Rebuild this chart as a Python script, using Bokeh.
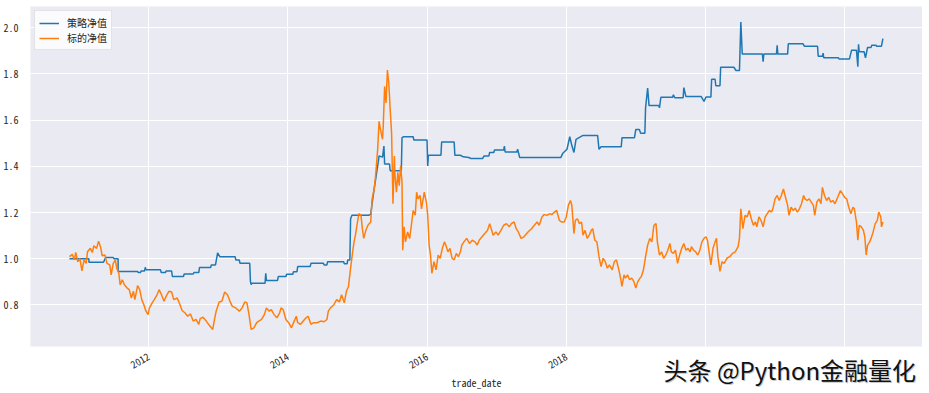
import math
import pandas as pd
from bokeh.plotting import figure
from bokeh.layouts import column
from bokeh.models import FixedTicker, PrintfTickFormatter, Label, Range1d
from bokeh.embed import file_html
from bokeh.resources import INLINE

# ---- data (dates as decimal years, values = net value) ----
strategy_t = [2010.86, 2011.14, 2011.14, 2011.35, 2011.38, 2011.49, 2011.50, 2011.56, 2011.56, 2011.84,
              2011.85, 2011.88, 2011.89, 2011.94, 2011.95, 2011.96, 2012.17, 2012.18, 2012.24, 2012.25,
              2012.33, 2012.34, 2012.50, 2012.51, 2012.64, 2012.65, 2012.72, 2012.73, 2012.89, 2012.90,
              2012.96, 2012.99, 2013.02, 2013.24, 2013.25, 2013.30, 2013.31, 2013.45, 2013.46, 2013.47,
              2013.48, 2013.67, 2013.68, 2013.69, 2013.85, 2013.86, 2013.97, 2013.98, 2014.07, 2014.08,
              2014.13, 2014.14, 2014.32, 2014.33, 2014.51, 2014.52, 2014.56, 2014.57, 2014.80, 2014.81,
              2014.85, 2014.86, 2014.89, 2014.90, 2014.92, 2015.16, 2015.19, 2015.21, 2015.24, 2015.29,
              2015.31, 2015.36, 2015.38, 2015.39, 2015.46, 2015.47, 2015.63, 2015.64, 2015.66, 2015.80,
              2015.81, 2016.00, 2016.01, 2016.02, 2016.20, 2016.21, 2016.39, 2016.40, 2016.48, 2016.52,
              2016.60, 2016.63, 2016.80, 2016.82, 2016.89, 2016.90, 2016.96, 2016.97, 2017.10, 2017.11,
              2017.12, 2017.29, 2017.30, 2017.33, 2017.92, 2017.95, 2018.01, 2018.05, 2018.08, 2018.11,
              2018.14, 2018.24, 2018.45, 2018.47, 2018.50, 2018.79, 2018.80, 2018.98, 2019.00, 2019.05,
              2019.07, 2019.13, 2019.14, 2019.17, 2019.19, 2019.33, 2019.34, 2019.36, 2019.53, 2019.54,
              2019.56, 2019.68, 2019.69, 2019.72, 2019.94, 2019.98, 2020.01, 2020.08, 2020.09, 2020.14,
              2020.15, 2020.21, 2020.22, 2020.41, 2020.44, 2020.49, 2020.51, 2020.53, 2020.82, 2020.83,
              2020.84, 2021.02, 2021.03, 2021.04, 2021.18, 2021.19, 2021.40, 2021.42, 2021.61, 2021.62,
              2021.68, 2021.69, 2021.70, 2021.91, 2021.92, 2022.07, 2022.10, 2022.17, 2022.19, 2022.20,
              2022.21, 2022.28, 2022.30, 2022.33, 2022.38, 2022.39, 2022.45, 2022.46, 2022.53, 2022.55]
strategy_v = [1.000, 1.000, 0.985, 0.985, 1.005, 1.005, 1.000, 1.000, 0.945, 0.945,
              0.940, 0.940, 0.947, 0.947, 0.963, 0.952, 0.952, 0.940, 0.940, 0.947,
              0.947, 0.923, 0.923, 0.934, 0.934, 0.940, 0.940, 0.962, 0.962, 0.973,
              0.973, 1.025, 1.009, 1.009, 0.995, 0.995, 0.980, 0.980, 0.902, 0.888,
              0.894, 0.894, 0.937, 0.906, 0.906, 0.923, 0.923, 0.933, 0.933, 0.944,
              0.944, 0.966, 0.966, 0.980, 0.980, 0.973, 0.973, 0.987, 0.987, 0.978,
              0.978, 0.995, 0.995, 1.173, 1.188, 1.188, 1.192, 1.240, 1.302, 1.402,
              1.445, 1.440, 1.488, 1.410, 1.410, 1.381, 1.381, 1.524, 1.528, 1.528,
              1.514, 1.514, 1.402, 1.448, 1.448, 1.505, 1.505, 1.448, 1.448, 1.441,
              1.438, 1.434, 1.434, 1.445, 1.445, 1.460, 1.460, 1.471, 1.471, 1.488,
              1.462, 1.462, 1.474, 1.438, 1.438, 1.457, 1.474, 1.528, 1.490, 1.460,
              1.517, 1.534, 1.534, 1.474, 1.485, 1.485, 1.524, 1.524, 1.560, 1.560,
              1.543, 1.543, 1.653, 1.739, 1.663, 1.663, 1.653, 1.699, 1.699, 1.710,
              1.697, 1.697, 1.741, 1.702, 1.702, 1.681, 1.700, 1.700, 1.777, 1.777,
              1.749, 1.749, 1.829, 1.829, 1.815, 1.815, 2.025, 1.886, 1.886, 1.853,
              1.886, 1.886, 1.924, 1.886, 1.886, 1.931, 1.931, 1.920, 1.920, 1.877,
              1.877, 1.890, 1.870, 1.870, 1.865, 1.865, 1.903, 1.903, 1.831, 1.928,
              1.896, 1.896, 1.870, 1.915, 1.915, 1.924, 1.924, 1.920, 1.920, 1.953]

bench_t = [2010.86, 2010.90, 2010.93, 2010.95, 2010.98, 2011.01, 2011.04, 2011.07, 2011.10, 2011.12,
           2011.16, 2011.19, 2011.21, 2011.25, 2011.28, 2011.31, 2011.33, 2011.37, 2011.40, 2011.44,
           2011.46, 2011.49, 2011.52, 2011.54, 2011.57, 2011.59, 2011.62, 2011.65, 2011.69, 2011.72,
           2011.75, 2011.78, 2011.80, 2011.84, 2011.87, 2011.90, 2011.93, 2011.96, 2011.99, 2012.01,
           2012.05, 2012.08, 2012.12, 2012.15, 2012.18, 2012.22, 2012.25, 2012.29, 2012.33, 2012.36,
           2012.41, 2012.45, 2012.48, 2012.52, 2012.56, 2012.60, 2012.64, 2012.68, 2012.72, 2012.74,
           2012.78, 2012.82, 2012.86, 2012.90, 2012.92, 2012.95, 2012.97, 2013.01, 2013.05, 2013.09,
           2013.13, 2013.17, 2013.20, 2013.25, 2013.30, 2013.34, 2013.38, 2013.41, 2013.44, 2013.47,
           2013.51, 2013.55, 2013.58, 2013.62, 2013.66, 2013.69, 2013.73, 2013.76, 2013.80, 2013.84,
           2013.88, 2013.90, 2013.93, 2013.97, 2014.01, 2014.05, 2014.09, 2014.12, 2014.14, 2014.18,
           2014.22, 2014.26, 2014.29, 2014.33, 2014.37, 2014.42, 2014.47, 2014.52, 2014.56, 2014.58,
           2014.61, 2014.66, 2014.70, 2014.74, 2014.77, 2014.81, 2014.84, 2014.87, 2014.90, 2014.93,
           2014.95, 2014.97, 2015.00, 2015.02, 2015.05, 2015.07, 2015.09, 2015.12, 2015.15, 2015.19,
           2015.21, 2015.24, 2015.26, 2015.29, 2015.31, 2015.33, 2015.36, 2015.37, 2015.39, 2015.41,
           2015.43, 2015.45, 2015.47, 2015.49, 2015.51, 2015.53, 2015.54, 2015.56, 2015.58, 2015.60,
           2015.62, 2015.64, 2015.65, 2015.67, 2015.69, 2015.72, 2015.75, 2015.78, 2015.80, 2015.83,
           2015.85, 2015.87, 2015.90, 2015.92, 2015.96, 2015.99, 2016.01, 2016.03, 2016.05, 2016.07,
           2016.10, 2016.13, 2016.16, 2016.19, 2016.22, 2016.25, 2016.27, 2016.30, 2016.33, 2016.36,
           2016.39, 2016.42, 2016.45, 2016.48, 2016.50, 2016.53, 2016.57, 2016.61, 2016.65, 2016.69,
           2016.72, 2016.75, 2016.79, 2016.83, 2016.87, 2016.90, 2016.93, 2016.95, 2016.99, 2017.02,
           2017.06, 2017.10, 2017.14, 2017.18, 2017.21, 2017.25, 2017.28, 2017.31, 2017.35, 2017.39,
           2017.43, 2017.46, 2017.50, 2017.54, 2017.58, 2017.61, 2017.65, 2017.68, 2017.72, 2017.76,
           2017.79, 2017.83, 2017.86, 2017.88, 2017.90, 2017.93, 2017.97, 2018.00, 2018.03, 2018.06,
           2018.08, 2018.11, 2018.13, 2018.16, 2018.19, 2018.22, 2018.24, 2018.27, 2018.30, 2018.33,
           2018.36, 2018.38, 2018.41, 2018.44, 2018.47, 2018.50, 2018.53, 2018.56, 2018.59, 2018.62,
           2018.66, 2018.69, 2018.72, 2018.75, 2018.78, 2018.80, 2018.83, 2018.85, 2018.88, 2018.91,
           2018.94, 2018.97, 2019.00, 2019.03, 2019.06, 2019.08, 2019.11, 2019.14, 2019.17, 2019.20,
           2019.23, 2019.26, 2019.29, 2019.31, 2019.34, 2019.37, 2019.40, 2019.43, 2019.46, 2019.49,
           2019.51, 2019.54, 2019.57, 2019.60, 2019.63, 2019.66, 2019.69, 2019.72, 2019.75, 2019.78,
           2019.80, 2019.83, 2019.86, 2019.89, 2019.92, 2019.95, 2019.98, 2020.01, 2020.03, 2020.08,
           2020.11, 2020.14, 2020.16, 2020.18, 2020.21, 2020.24, 2020.27, 2020.31, 2020.35, 2020.39,
           2020.43, 2020.47, 2020.49, 2020.51, 2020.54, 2020.57, 2020.60, 2020.63, 2020.66, 2020.69,
           2020.72, 2020.74, 2020.77, 2020.80, 2020.83, 2020.86, 2020.89, 2020.92, 2020.95, 2020.97,
           2021.00, 2021.03, 2021.06, 2021.09, 2021.12, 2021.15, 2021.18, 2021.20, 2021.23, 2021.26,
           2021.29, 2021.32, 2021.35, 2021.38, 2021.41, 2021.43, 2021.46, 2021.49, 2021.52, 2021.55,
           2021.57, 2021.60, 2021.63, 2021.66, 2021.68, 2021.71, 2021.74, 2021.77, 2021.80, 2021.83,
           2021.86, 2021.89, 2021.91, 2021.94, 2021.97, 2022.00, 2022.03, 2022.06, 2022.09, 2022.12,
           2022.14, 2022.17, 2022.19, 2022.21, 2022.24, 2022.27, 2022.29, 2022.31, 2022.33, 2022.36,
           2022.38, 2022.41, 2022.44, 2022.47, 2022.49, 2022.52, 2022.53, 2022.55]
bench_v = [1.009, 1.019, 0.995, 1.027, 0.987, 1.002, 0.947, 0.995, 0.980, 1.030,
           1.045, 1.027, 1.056, 1.045, 1.076, 1.048, 1.013, 1.016, 0.980, 0.973,
           0.930, 0.980, 0.995, 0.959, 0.937, 0.887, 0.909, 0.887, 0.873, 0.866,
           0.830, 0.859, 0.823, 0.884, 0.866, 0.823, 0.801, 0.773, 0.758, 0.787,
           0.809, 0.823, 0.844, 0.866, 0.847, 0.816, 0.837, 0.859, 0.856, 0.823,
           0.830, 0.801, 0.776, 0.766, 0.751, 0.761, 0.730, 0.737, 0.716, 0.741,
           0.747, 0.733, 0.716, 0.701, 0.694, 0.744, 0.773, 0.813, 0.816, 0.856,
           0.844, 0.813, 0.794, 0.787, 0.773, 0.787, 0.813, 0.809, 0.758, 0.694,
           0.701, 0.723, 0.730, 0.737, 0.758, 0.787, 0.773, 0.780, 0.758, 0.744,
           0.766, 0.787, 0.780, 0.737, 0.723, 0.701, 0.730, 0.751, 0.723, 0.716,
           0.730, 0.744, 0.751, 0.716, 0.723, 0.723, 0.730, 0.727, 0.737, 0.773,
           0.787, 0.801, 0.823, 0.813, 0.844, 0.809, 0.859, 0.880, 0.959, 1.030,
           1.073, 1.102, 1.159, 1.195, 1.188, 1.130, 1.088, 1.123, 1.145, 1.159,
           1.259, 1.302, 1.359, 1.474, 1.595, 1.560, 1.517, 1.574, 1.746, 1.674,
           1.817, 1.760, 1.645, 1.545, 1.238, 1.445, 1.359, 1.288, 1.374, 1.316,
           1.402, 1.331, 1.037, 1.138, 1.073, 1.116, 1.088, 1.159, 1.209, 1.188,
           1.288, 1.259, 1.274, 1.216, 1.288, 1.245, 1.188, 1.059, 1.016, 0.937,
           0.987, 0.952, 1.016, 1.002, 1.045, 1.073, 1.059, 1.030, 1.045, 1.002,
           0.995, 1.023, 1.009, 1.030, 1.059, 1.073, 1.088, 1.066, 1.080, 1.073,
           1.059, 1.080, 1.095, 1.109, 1.123, 1.152, 1.123, 1.102, 1.116, 1.102,
           1.123, 1.145, 1.152, 1.138, 1.152, 1.159, 1.130, 1.116, 1.088, 1.095,
           1.109, 1.119, 1.130, 1.145, 1.159, 1.145, 1.181, 1.191, 1.188, 1.195,
           1.191, 1.202, 1.209, 1.188, 1.166, 1.159, 1.159, 1.181, 1.231, 1.252,
           1.231, 1.109, 1.166, 1.173, 1.152, 1.159, 1.102, 1.123, 1.088, 1.102,
           1.123, 1.130, 1.080, 1.073, 1.009, 0.966, 1.002, 0.987, 0.959, 0.973,
           0.952, 0.987, 0.995, 0.959, 0.916, 0.880, 0.930, 0.916, 0.930, 0.909,
           0.916, 0.902, 0.873, 0.902, 0.916, 0.923, 0.952, 1.009, 1.059, 1.088,
           1.073, 1.145, 1.152, 1.073, 1.016, 1.030, 1.002, 1.016, 1.037, 1.066,
           1.030, 1.023, 1.037, 0.980, 1.016, 1.045, 1.066, 1.037, 1.045, 1.030,
           1.052, 1.037, 1.030, 1.016, 1.037, 1.073, 1.088, 1.095, 1.080, 0.973,
           1.045, 1.073, 1.088, 1.009, 0.945, 0.987, 0.980, 1.002, 1.009, 1.023,
           1.030, 1.052, 1.088, 1.216, 1.130, 1.188, 1.181, 1.209, 1.173, 1.145,
           1.159, 1.138, 1.181, 1.166, 1.138, 1.181, 1.195, 1.209, 1.202, 1.216,
           1.259, 1.274, 1.252, 1.274, 1.302, 1.266, 1.231, 1.188, 1.223, 1.209,
           1.219, 1.202, 1.216, 1.238, 1.274, 1.259, 1.252, 1.259, 1.245, 1.231,
           1.188, 1.245, 1.259, 1.238, 1.309, 1.274, 1.252, 1.266, 1.245, 1.252,
           1.238, 1.259, 1.274, 1.295, 1.281, 1.266, 1.259, 1.223, 1.195, 1.223,
           1.216, 1.159, 1.080, 1.145, 1.138, 1.123, 1.095, 1.016, 1.059, 1.073,
           1.088, 1.116, 1.152, 1.166, 1.202, 1.181, 1.138, 1.159]

series_names = ["策略净值", "标的净值"]
series_colors = ["#1f77b4", "#ff7f0e"]
x_tick_years = [2012, 2014, 2016, 2018, 2020, 2022]
x_tick_labels = ["2012", "2014", "2016", "2018", "", ""]
y_ticks = [0.8, 1.0, 1.2, 1.4, 1.6, 1.8, 2.0]
x_label = "trade_date"
watermark = "头条 @Python金融量化"


def to_dt(y):
    yi = int(math.floor(y))
    return pd.Timestamp(yi, 1, 1) + pd.to_timedelta((y - yi) * 365.25, unit="D")


def to_ms(ts):
    return ts.value / 1e6


mono = "Noto Sans Mono CJK SC"
txt_color = "#262626"

fig = figure(width=922, height=393, x_axis_type="datetime",
             output_backend="svg", toolbar_location=None,
             x_range=Range1d(to_dt(2010.30), to_dt(2023.12)),
             y_range=Range1d(0.62, 2.092),
             min_border_left=30, min_border_right=0, min_border_top=6, min_border_bottom=44)
fig.background_fill_color = "#EAEAF2"
fig.outline_line_color = None
fig.border_fill_color = "white"

fig.line([to_dt(t) for t in strategy_t], strategy_v, color=series_colors[0], line_width=1.5,
         legend_label=series_names[0])
fig.line([to_dt(t) for t in bench_t], bench_v, color=series_colors[1], line_width=1.5,
         legend_label=series_names[1])

# grid
for g in (fig.xgrid, fig.ygrid):
    g.grid_line_color = "white"
    g.grid_line_width = 1
fig.xgrid.ticker = FixedTicker(ticks=[to_ms(to_dt(y)) for y in x_tick_years])
fig.ygrid.ticker = FixedTicker(ticks=y_ticks)

# x axis
xa = fig.xaxis[0]
xa.ticker = FixedTicker(ticks=[to_ms(to_dt(y)) for y in x_tick_years])
xa.major_label_overrides = {to_ms(to_dt(y)): lab for y, lab in zip(x_tick_years, x_tick_labels)}
xa.major_label_orientation = math.pi / 6
xa.axis_line_color = None
xa.major_tick_line_color = None
xa.minor_tick_line_color = None
xa.major_label_text_font = mono
xa.major_label_text_font_size = "10px"
xa.major_label_text_color = txt_color
xa.major_label_standoff = 3
xa.axis_label = x_label
xa.axis_label_text_font = mono
xa.axis_label_text_font_size = "10px"
xa.axis_label_text_font_style = "normal"
xa.axis_label_text_color = txt_color
xa.axis_label_standoff = 0

# y axis
ya = fig.yaxis[0]
ya.ticker = FixedTicker(ticks=y_ticks)
ya.formatter = PrintfTickFormatter(format="%.1f")
ya.axis_line_color = None
ya.major_tick_line_color = None
ya.minor_tick_line_color = None
ya.major_label_text_font = mono
ya.major_label_text_font_size = "10px"
ya.major_label_text_color = txt_color
ya.major_label_standoff = 6

# legend
lg = fig.legend[0]
lg.location = "top_left"
lg.margin = 4
lg.padding = 4
lg.spacing = 0
lg.glyph_width = 20
lg.glyph_height = 12
lg.label_height = 12
lg.label_standoff = 8
lg.label_text_font = "Noto Sans CJK SC"
lg.label_text_font_size = "10px"
lg.label_text_color = txt_color
lg.border_line_color = "#cccccc"
lg.border_line_width = 1
lg.background_fill_color = "white"
lg.background_fill_alpha = 0.8

# watermark: a small transparent figure pulled up over the bottom-right corner
wm = figure(width=296, height=44, output_backend="svg", toolbar_location=None,
            x_range=Range1d(0, 1), y_range=Range1d(0, 1),
            x_axis_location=None, y_axis_location=None,
            min_border=0, margin=(-46, 0, 0, 629))
wm.grid.visible = False
wm.background_fill_color = None
wm.border_fill_color = None
wm.outline_line_color = None
wm.add_layout(Label(x=5, y=21, x_units="screen", y_units="screen", text=watermark,
                    text_font="Noto Sans CJK SC", text_font_size="24px", text_color="#c8c8c8",
                    text_baseline="middle"))
wm.add_layout(Label(x=4, y=22, x_units="screen", y_units="screen", text=watermark,
                    text_font="Noto Sans CJK SC", text_font_size="24px", text_color="#111111",
                    text_baseline="middle"))

p = column(fig, wm, spacing=0)
open("out.html", "w").write(file_html(p, INLINE))
